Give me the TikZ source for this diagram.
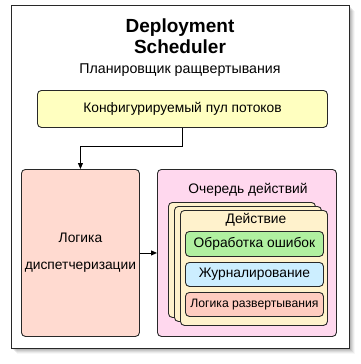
\documentclass[tikz,border=0pt]{standalone}
\usepackage{fontspec}
\setmainfont{Liberation Sans}
\usetikzlibrary{arrows.meta}
\definecolor{frameline}{RGB}{40,40,40}
\definecolor{poolfill}{RGB}{255,255,192}
\definecolor{dispfill}{RGB}{255,218,208}
\definecolor{queuefill}{RGB}{255,216,238}
\definecolor{cardfill}{RGB}{255,242,204}
\definecolor{errfill}{RGB}{176,240,160}
\definecolor{logfill}{RGB}{204,238,255}
\definecolor{depfill}{RGB}{255,204,192}
\tikzset{
  box/.style={draw=frameline, line width=0.9pt, rounded corners=4pt, inner sep=0pt, anchor=north west},
  lbl/.style={inner sep=0pt, align=center, text=black},
  txt/.style={lbl, font=\fontsize{13.8}{15}\selectfont},
  arr/.style={draw=black, line width=0.9pt, -{Triangle[length=6pt,width=5pt]}},
}
\begin{document}
\begin{tikzpicture}[x=1pt,y=-1pt]
\useasboundingbox (0,0) rectangle (360,364);
% shadow
\foreach \d/\o in {1/0.10,2/0.09,3/0.08,4/0.07,5/0.05,6/0.03}
  \fill[black, opacity=\o] (11+\d,5+\d) rectangle (349+\d,348+\d);
\node[draw=frameline, line width=1.2pt, fill=white, inner sep=0pt, anchor=north west,
  minimum width=338pt, minimum height=343pt] (frame) at (11,5) {};
\node[lbl, font=\bfseries\fontsize{19}{21}\selectfont] (title) at (180,36.5) {Deployment\\Scheduler};
\node[lbl, font=\fontsize{14.2}{15}\selectfont] (sub) at (180,70) {Планировщик ращвертывания};
\node[box, fill=poolfill, minimum width=290pt, minimum height=37pt] (pool) at (37,90) {};
\node[txt] (pooltxt) at (pool.center) {Конфигурируемый пул потоков};
\node[box, fill=dispfill, minimum width=118pt, minimum height=167pt] (disp) at (21,169) {};
\node[lbl, font=\fontsize{13.8}{27}\selectfont] (disptxt) at (disp.center) {Логика\\диспетчеризации};
\node[box, fill=queuefill, minimum width=179pt, minimum height=167pt] (queue) at (157,169) {};
\node[txt] (queuetxt) at (248,190) {Очередь действий};
\node[box, fill=cardfill, minimum width=147pt, minimum height=115pt] (card3) at (168,202) {};
\node[box, fill=cardfill, minimum width=147pt, minimum height=115pt] (card2) at (174,206) {};
\node[box, fill=cardfill, minimum width=147pt, minimum height=115pt] (card1) at (180,210) {};
\node[txt] (cardtxt) at (256,220) {Действие};
\node[box, fill=errfill, minimum width=138pt, minimum height=25pt] (err) at (185,231) {};
\node[txt] at (err.center) {Обработка ошибок};
\node[box, fill=logfill, minimum width=138pt, minimum height=24pt] (log) at (185,262) {};
\node[txt] at (log.center) {Журналирование};
\node[box, fill=depfill, minimum width=138pt, minimum height=24pt] (dep) at (185,292) {};
\node[lbl, font=\fontsize{12.2}{13}\selectfont] at (dep.center) {Логика развертывания};
\draw[arr] (pool.south) -- ++(0,19) -| (disp.north);
\draw[arr] (disp.east) -- (queue.west);
\end{tikzpicture}
\end{document}
